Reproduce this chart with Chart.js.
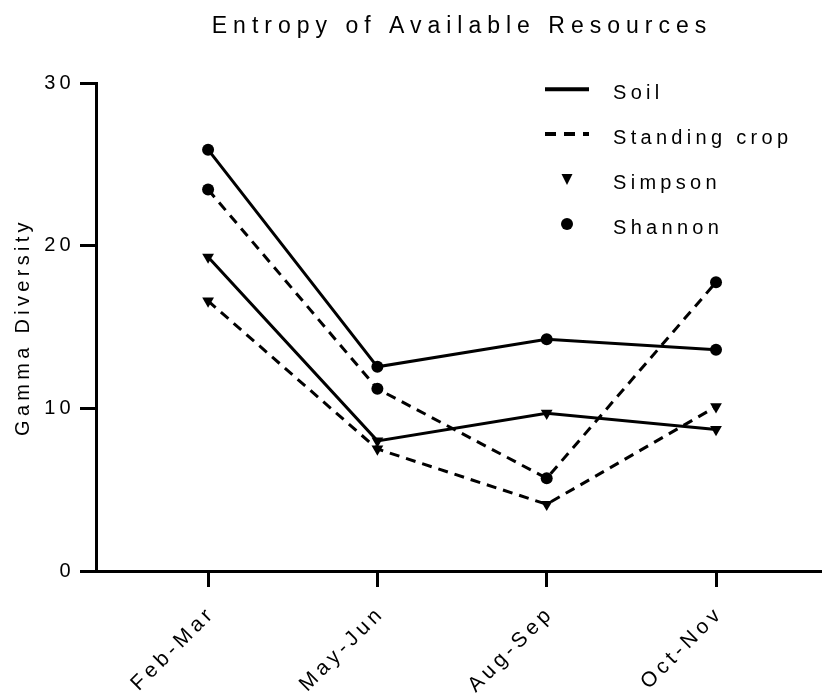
<!DOCTYPE html>
<html><head><meta charset="utf-8">
<script src="https://cdn.jsdelivr.net/npm/chart.js@4/dist/chart.umd.min.js"></script>
<style>html,body{margin:0;padding:0;background:#fff}#wrap{width:822px;height:700px}</style>
</head><body><div id="wrap"><canvas id="c" width="822" height="700"></canvas></div>
<script>
const chartTitle = 'Entropy of Available Resources';
const yAxisTitle = 'Gamma Diversity';
const categories = ['Feb-Mar', 'May-Jun', 'Aug-Sep', 'Oct-Nov'];
const yTicks = [0, 10, 20, 30];
const soilShannon = [25.9, 12.55, 14.25, 13.6];
const soilSimpson = [19.3, 8.0, 9.7, 8.7];
const cropShannon = [23.45, 11.2, 5.7, 17.75];
const cropSimpson = [16.6, 7.5, 4.1, 10.1];
const legendLabels = ['Soil', 'Standing crop', 'Simpson', 'Shannon'];

const FONT = "'Liberation Sans', Arial, sans-serif";
const SPACING = '4.3px';
const toPts = arr => arr.map((v, i) => ({x: i, y: v}));

function ds(label, values, dashed, style) {
  return {
    label, data: toPts(values),
    borderColor: '#000', backgroundColor: '#000',
    borderWidth: 3, borderDash: dashed ? [10, 7] : [],
    pointStyle: style, pointRotation: style === 'triangle' ? 180 : 0,
    pointRadius: style === 'triangle' ? 6.8 : 6, pointBorderWidth: 0,
    pointBackgroundColor: '#000', tension: 0, fill: false
  };
}

const spacingPlugin = {
  id: 'spacing',
  beforeLayout(chart) { chart.ctx.letterSpacing = SPACING; },
  beforeDraw(chart) { chart.ctx.letterSpacing = SPACING; }
};

const decorPlugin = {
  id: 'decor',
  afterDraw(chart) {
    const ctx = chart.ctx;
    ctx.save();
    ctx.fillStyle = '#000';
    ctx.strokeStyle = '#000';
    ctx.letterSpacing = '6px';
    ctx.font = '23px ' + FONT;
    ctx.textAlign = 'center';
    ctx.textBaseline = 'alphabetic';
    ctx.fillText(chartTitle, 462, 33);
    ctx.letterSpacing = SPACING;
    ctx.font = '20px ' + FONT;
    ctx.textAlign = 'left';
    const baselines = [98.5, 143.5, 189, 234];
    const mid = [89.3, 134, 179, 224];
    legendLabels.forEach((t, i) => ctx.fillText(t, 613, baselines[i]));
    ctx.lineWidth = 4;
    ctx.setLineDash([]);
    ctx.beginPath(); ctx.moveTo(545, mid[0]); ctx.lineTo(589, mid[0]); ctx.stroke();
    ctx.setLineDash([11, 8]);
    ctx.beginPath(); ctx.moveTo(545, mid[1]); ctx.lineTo(589, mid[1]); ctx.stroke();
    ctx.setLineDash([]);
    ctx.beginPath();
    ctx.moveTo(561.5, mid[2] - 5); ctx.lineTo(572.5, mid[2] - 5); ctx.lineTo(567, mid[2] + 6);
    ctx.closePath(); ctx.fill();
    ctx.beginPath(); ctx.arc(567, mid[3], 6, 0, Math.PI * 2); ctx.fill();
    ctx.restore();
  }
};

new Chart(document.getElementById('c'), {
  type: 'line',
  data: {
    datasets: [
      ds('Soil Shannon', soilShannon, false, 'circle'),
      ds('Soil Simpson', soilSimpson, false, 'triangle'),
      ds('Standing crop Shannon', cropShannon, true, 'circle'),
      ds('Standing crop Simpson', cropSimpson, true, 'triangle')
    ]
  },
  options: {
    responsive: false, animation: false, devicePixelRatio: 1,
    layout: {autoPadding: false, padding: {top: 83, right: 0, left: 0, bottom: 0}},
    plugins: {legend: {display: false}, title: {display: false}, tooltip: {enabled: false}},
    scales: {
      x: {
        type: 'linear', min: -0.662, max: 3.626,
        afterBuildTicks: s => { s.ticks = categories.map((c, i) => ({value: i})); },
        afterFit: s => { s.height = 129; s.paddingLeft = 0; s.paddingRight = 0; },
        border: {display: true, color: '#000', width: 3},
        grid: {drawOnChartArea: false, drawTicks: true, tickLength: 16, tickWidth: 3, tickColor: '#000'},
        ticks: {
          color: '#000', font: {family: FONT, size: 21}, padding: 14, labelOffset: 4,
          minRotation: 45, maxRotation: 45, autoSkip: false,
          callback: v => categories[v]
        }
      },
      y: {
        type: 'linear', min: 0, max: 30,
        afterBuildTicks: s => { s.ticks = yTicks.map(v => ({value: v})); },
        afterFit: s => { s.width = 96; s.paddingTop = 0; s.paddingBottom = 0; },
        border: {display: true, color: '#000', width: 3},
        grid: {drawOnChartArea: false, drawTicks: true, tickLength: 16, tickWidth: 3, tickColor: '#000'},
        ticks: {color: '#000', font: {family: FONT, size: 20}, padding: 5},
        title: {display: true, text: yAxisTitle, color: '#000', font: {family: FONT, size: 20}, padding: {top: 11, bottom: 0}}
      }
    }
  },
  plugins: [spacingPlugin, decorPlugin]
});
</script>
</body></html>
